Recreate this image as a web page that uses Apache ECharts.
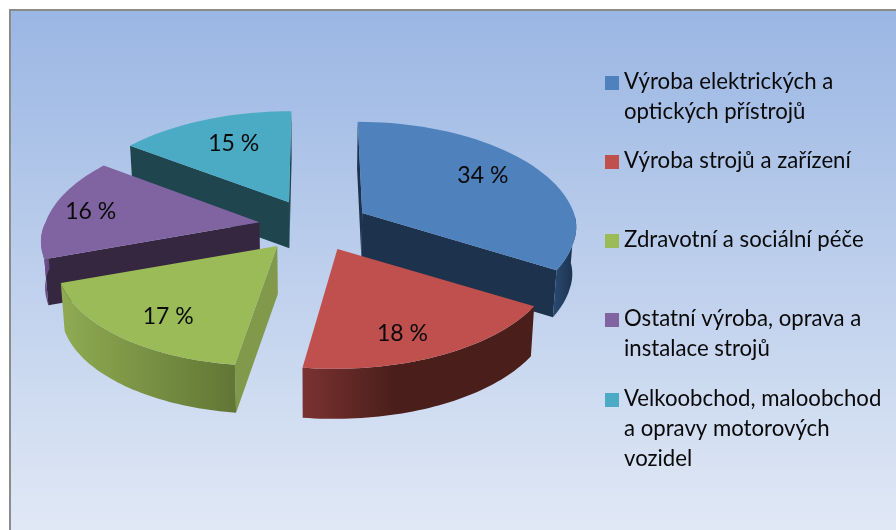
<!DOCTYPE html>
<html>
<head>
<meta charset="utf-8">
<style>html,body{margin:0;padding:0;background:#fff}#c{width:896px;height:530px}</style>
<script src="https://cdn.jsdelivr.net/npm/echarts@6/dist/echarts.min.js"></script>
</head>
<body>
<div id="c"></div>
<script>
var categories = ['Výroba elektrických a\noptických přístrojů', 'Výroba strojů a zařízení', 'Zdravotní a sociální péče', 'Ostatní výroba, oprava a\ninstalace strojů', 'Velkoobchod, maloobchod\na opravy motorových\nvozidel'];
var shares = [34, 18, 17, 16, 15];
var labels = ['34 %', '18 %', '17 %', '16 %', '15 %'];
var topColors = ['#4f81bd', '#bf504d', '#9bbb59', '#8064a2', '#4babc5'];
var radialWallColors = ['#1d324d', '#4a1f1c', '#80994a', '#35273f', '#1f454e'];
var outerWallFrom = ['#2a4a72', '#7a3230', '#8fab52', '#7c5c9c', '#2d6473'];
var outerWallTo = ['#1b304a', '#4a1e1b', '#617635', '#5e4579', '#1f454e'];
var labelRadius = [0.72, 0.8, 0.77, 0.81, 0.68];
var labelTurnDeg = [-3, 5, -4, 0, 2];
var legendY = [76, 155, 234, 313, 393];
var drawOrder = [4, 3, 0, 2, 1];
var sliceNudgeX = [0, 0, -3, 0, 0];
var sliceRimScaleX = [0.98, 1, 1, 0.99, 1];
var sliceDepthExtra = [0, 3, 1, -1, -1];

var layout = {cx: 314, cy: 225.5, rx: 216, ry: 105, persp: 0.152, ex: 55, ey: 26, depth: 47, floorScale: 0.985};
var total = shares.reduce(function (a, b) { return a + b; }, 0);
var startAngles = [];
shares.reduce(function (acc, v, i) { startAngles[i] = acc; return acc + v / total * Math.PI * 2; }, 0);

function apexOf(i) {
  var mid = startAngles[i] + shares[i] / total * Math.PI;
  return [layout.cx + layout.ex * Math.sin(mid) + sliceNudgeX[i], layout.cy - layout.ey * Math.cos(mid)];
}
function rimPoint(a, t, r, i) {
  var X = r * Math.sin(t), Z = r * Math.cos(t), s = 1 / (1 + layout.persp * Z);
  var front = Math.max(0, -Z);
  return [
    a[0] + layout.rx * sliceRimScaleX[i] * X * s + (a[0] - layout.cx) * (s - 1) * 0.7 - 6 * front,
    a[1] - layout.ry * Z * s - 4 * Math.min(1, front / 0.3)
  ];
}

function renderItem(params) {
  var o = params.dataIndex, i = drawOrder[o];
  var a = apexOf(i), t0 = startAngles[i], t1 = t0 + shares[i] / total * Math.PI * 2;
  var arc = [], n = 48, k;
  for (k = 0; k <= n; k++) arc.push(rimPoint(a, t0 + (t1 - t0) * k / n, 1, i));
  var children = [];
  function drop(p) {
    return [layout.cx + (p[0] - layout.cx) * layout.floorScale, p[1] + layout.depth + sliceDepthExtra[i]];
  }
  function wallPoints(line) {
    return line.concat(line.map(drop).reverse());
  }
  function poly(points, fill) {
    children.push({type: 'polygon', silent: true, shape: {points: points}, style: {fill: fill, stroke: null}});
  }
  var first = arc[0], last = arc[n];
  if (a[0] < last[0]) poly(wallPoints([last, a]), radialWallColors[i]);
  if (first[0] < a[0]) poly(wallPoints([a, first]), radialWallColors[i]);
  var visible = [];
  for (k = 0; k <= n; k++) {
    var t = t0 + (t1 - t0) * k / n;
    if (t >= Math.PI / 2 && t <= Math.PI * 1.5) visible.push(arc[k]);
  }
  if (visible.length > 1) {
    poly(wallPoints(visible), new echarts.graphic.LinearGradient(1, 0, 0, 0, i === 1
      ? [{offset: 0, color: outerWallTo[i]}, {offset: 0.6, color: outerWallTo[i]}, {offset: 1, color: outerWallFrom[i]}]
      : [{offset: 0, color: outerWallTo[i]}, {offset: 1, color: outerWallFrom[i]}]));
  }
  poly([a].concat(arc), topColors[i]);
  var mid = (t0 + t1) / 2 + labelTurnDeg[i] * Math.PI / 180, lp = rimPoint(a, mid, labelRadius[i], i);
  children.push({type: 'text', silent: true, x: lp[0], y: lp[1], style: {text: labels[i], fill: '#0a0a0a', font: '23px Lato', align: 'center', verticalAlign: 'middle'}});
  children.push({type: 'rect', silent: true, shape: {x: 605, y: legendY[i], width: 14, height: 14}, style: {fill: topColors[i]}});
  children.push({type: 'text', silent: true, x: 624, y: legendY[i] - 9, style: {text: categories[i], fill: '#0a0a0a', font: '22.2px Lato', lineHeight: 30, align: 'left', verticalAlign: 'top'}});
  return {type: 'group', children: children};
}

var chart = echarts.init(document.getElementById('c'), null, {renderer: 'canvas'});
chart.setOption({
  animation: false,
  backgroundColor: '#ffffff',
  graphic: [{
    type: 'rect', z: -1, silent: true,
    shape: {x: 10, y: 10, width: 900, height: 540},
    style: {
      fill: new echarts.graphic.LinearGradient(0, 0, 0, 1, [{offset: 0, color: '#9ab6e3'}, {offset: 1, color: '#e3eaf6'}]),
      stroke: '#8c8c8c', lineWidth: 2
    }
  }],
  series: [{
    type: 'custom',
    coordinateSystem: 'none',
    renderItem: renderItem,
    data: drawOrder.map(function (i) { return shares[i]; }),
    silent: true,
    z: 5
  }]
});
</script>
</body>
</html>
